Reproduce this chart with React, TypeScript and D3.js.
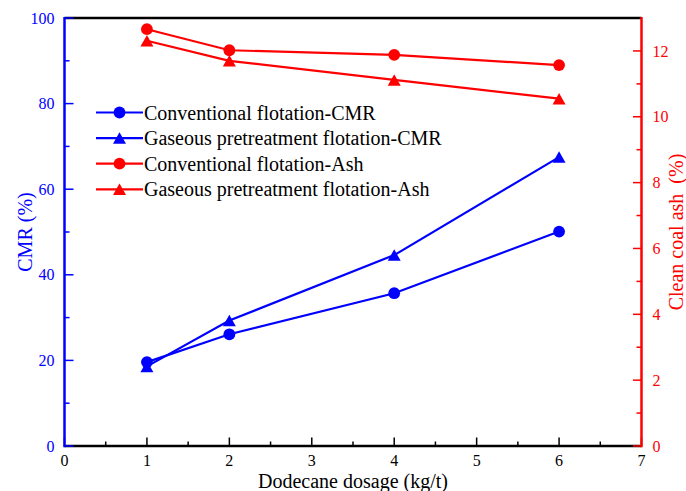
import React from "react";
import * as d3 from "d3";

const dosage = [1, 2, 4, 6];
const convCMR = [19.6, 26.1, 35.7, 50.1];
const gasCMR = [18.6, 29.3, 44.6, 67.5];
const convAsh = [12.66, 12.02, 11.88, 11.57];
const gasAsh = [12.31, 11.70, 11.12, 10.55];

const xTicks = [0, 1, 2, 3, 4, 5, 6, 7];
const yLeftTicks = [0, 20, 40, 60, 80, 100];
const yRightTicks = [0, 2, 4, 6, 8, 10, 12];

const legendLabels = [
  "Conventional flotation-CMR",
  "Gaseous pretreatment flotation-CMR",
  "Conventional flotation-Ash",
  "Gaseous pretreatment flotation-Ash",
];

const W = 686;
const H = 491;
const L = 64.5;
const R = 641.5;
const T = 18;
const B = 446;
const BLUE = "#0000ff";
const RED = "#ff0000";
const FONT = "'Liberation Serif', 'Times New Roman', Times, serif";

const x = d3.scaleLinear().domain([0, 7]).range([L, R]);
const yL = d3.scaleLinear().domain([0, 100]).range([B, T]);
const yR = d3.scaleLinear().domain([0, 13]).range([B, T]);

function tri(cx: number, cy: number) {
  const w = 13, h = 11.5;
  return `M${cx},${cy - h / 2}L${cx + w / 2},${cy + h / 2}L${cx - w / 2},${cy + h / 2}Z`;
}

type Series = { vals: number[]; y: d3.ScaleLinear<number, number>; color: string; marker: "circle" | "tri" };
const series: Series[] = [
  { vals: convCMR, y: yL, color: BLUE, marker: "circle" },
  { vals: gasCMR, y: yL, color: BLUE, marker: "tri" },
  { vals: convAsh, y: yR, color: RED, marker: "circle" },
  { vals: gasAsh, y: yR, color: RED, marker: "tri" },
];

function Marker({ kind, cx, cy, color }: { kind: string; cx: number; cy: number; color: string }) {
  return kind === "circle" ? (
    <circle cx={cx} cy={cy} r={5.9} fill={color} />
  ) : (
    <path d={tri(cx, cy)} fill={color} />
  );
}

export default function App() {
  const xMinor = d3.range(0.5, 7, 1);
  const yLMinor = d3.range(10, 100, 20);
  const yRMinor = d3.range(1, 13, 2);
  const line = (s: Series) =>
    d3.line<number>().x((_, i) => x(dosage[i])).y((v) => s.y(v))(s.vals) || "";

  return (
    <svg width={W} height={H} style={{ position: "absolute", left: 0, top: 0, background: "#fff" }}>
      {/* series */}
      {series.map((s, si) => (
        <g key={si}>
          <path d={line(s)} fill="none" stroke={s.color} strokeWidth={2.2} />
          {s.vals.map((v, i) => (
            <Marker key={i} kind={s.marker} cx={x(dosage[i])} cy={s.y(v)} color={s.color} />
          ))}
        </g>
      ))}

      {/* top border */}
      <line x1={L} x2={R} y1={T} y2={T} stroke="#000" strokeWidth={2.5} />
      {/* bottom axis */}
      <line x1={L} x2={R} y1={B} y2={B} stroke="#000" strokeWidth={2.5} />
      {xTicks.map((t) => (
        <g key={"x" + t}>
          <line x1={x(t)} x2={x(t)} y1={B} y2={B - 8.5} stroke="#000" strokeWidth={1.5} />
          <text x={x(t)} y={466} textAnchor="middle" fontSize={16} fontFamily={FONT} fill="#000">{t}</text>
        </g>
      ))}
      {xMinor.map((t) => (
        <line key={"xm" + t} x1={x(t)} x2={x(t)} y1={B} y2={B - 4.5} stroke="#000" strokeWidth={1.5} />
      ))}
      <text x={(L + R) / 2} y={488} textAnchor="middle" fontSize={20} fontFamily={FONT} fill="#000">Dodecane dosage (kg/t)</text>

      {/* left axis */}
      <line x1={L} x2={L} y1={T - 1} y2={B + 1.2} stroke={BLUE} strokeWidth={2.5} />
      {yLeftTicks.map((t) => (
        <g key={"yl" + t}>
          <line x1={L} x2={L + 9} y1={yL(t)} y2={yL(t)} stroke={BLUE} strokeWidth={1.5} />
          <text x={54.5} y={yL(t)} dy="0.35em" textAnchor="end" fontSize={16} fontFamily={FONT} fill={BLUE}>{t}</text>
        </g>
      ))}
      {yLMinor.map((t) => (
        <line key={"ylm" + t} x1={L} x2={L + 5} y1={yL(t)} y2={yL(t)} stroke={BLUE} strokeWidth={1.5} />
      ))}
      <text transform={`translate(25,${(T + B) / 2}) rotate(-90)`} dy="0.35em" textAnchor="middle" fontSize={20} fontFamily={FONT} fill={BLUE}>CMR (%)</text>

      {/* right axis */}
      <line x1={R} x2={R} y1={T - 1} y2={B + 1.2} stroke={RED} strokeWidth={2.5} />
      {yRightTicks.map((t) => (
        <g key={"yr" + t}>
          <line x1={R} x2={R - 8.5} y1={yR(t)} y2={yR(t)} stroke={RED} strokeWidth={1.5} />
          <text x={652.5} y={yR(t)} dy="0.35em" textAnchor="start" fontSize={16} fontFamily={FONT} fill={RED}>{t}</text>
        </g>
      ))}
      {yRMinor.map((t) => (
        <line key={"yrm" + t} x1={R} x2={R - 5} y1={yR(t)} y2={yR(t)} stroke={RED} strokeWidth={1.5} />
      ))}
      <text transform={`translate(676,${(T + B) / 2}) rotate(-90)`} dy="0.35em" textAnchor="middle" fontSize={20} fontFamily={FONT} fill={RED} style={{ whiteSpace: "pre" }}>{"Clean coal ash  (%)"}</text>

      {/* legend */}
      {series.map((s, i) => {
        const ly = 112.5 + i * 25.6;
        return (
          <g key={"lg" + i}>
            <line x1={96} x2={143} y1={ly} y2={ly} stroke={s.color} strokeWidth={2.2} />
            <Marker kind={s.marker} cx={119.5} cy={ly} color={s.color} />
            <text x={144} y={ly} dy="0.35em" fontSize={20} fontFamily={FONT} fill="#000">{legendLabels[i]}</text>
          </g>
        );
      })}
    </svg>
  );
}
